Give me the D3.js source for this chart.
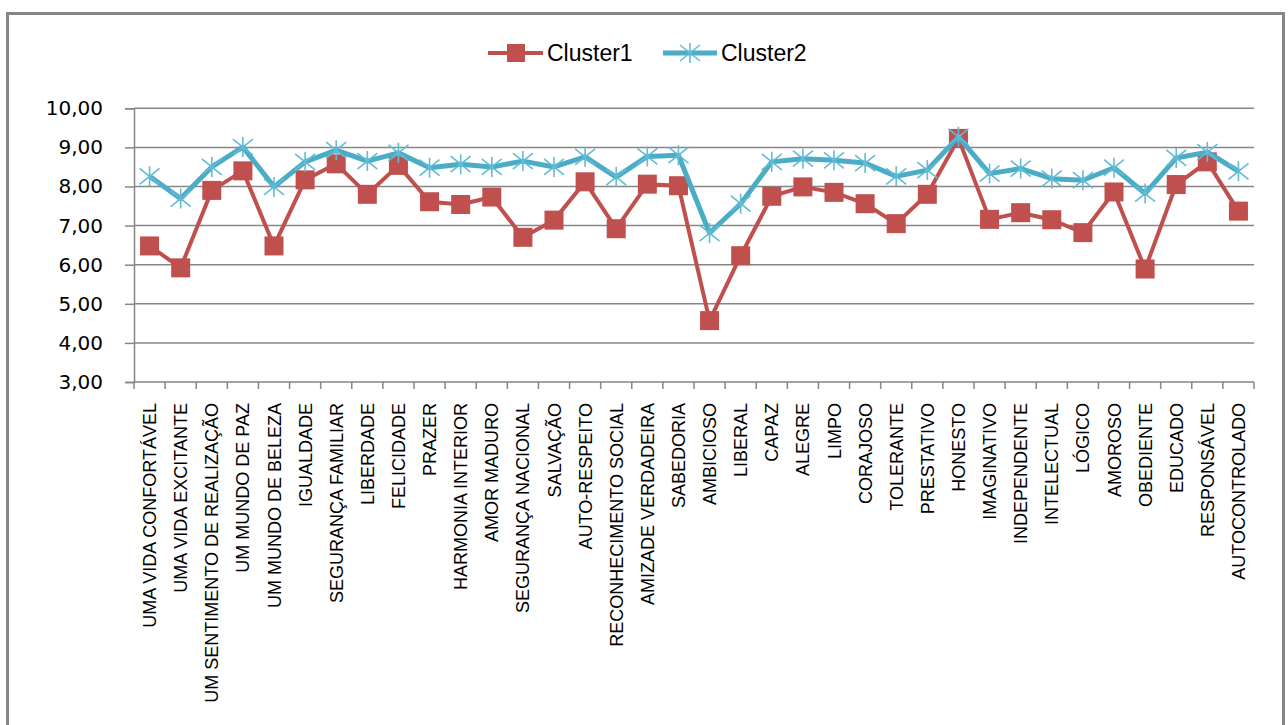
<!DOCTYPE html>
<html>
<head>
<meta charset="utf-8">
<script src="https://cdn.jsdelivr.net/npm/d3@7"></script>
<style>
  html, body { margin: 0; padding: 0; background: #fff; }
  svg { display: block; }
</style>
</head>
<body>
<svg id="chart" width="1288" height="725"></svg>
<script>
const categories = [
  "UMA VIDA CONFORTÁVEL", "UMA VIDA EXCITANTE", "UM SENTIMENTO DE REALIZAÇÃO",
  "UM MUNDO DE PAZ", "UM MUNDO DE BELEZA", "IGUALDADE", "SEGURANÇA FAMILIAR",
  "LIBERDADE", "FELICIDADE", "PRAZER", "HARMONIA INTERIOR", "AMOR MADURO",
  "SEGURANÇA NACIONAL", "SALVAÇÃO", "AUTO-RESPEITO", "RECONHECIMENTO SOCIAL",
  "AMIZADE VERDADEIRA", "SABEDORIA", "AMBICIOSO", "LIBERAL", "CAPAZ", "ALEGRE",
  "LIMPO", "CORAJOSO", "TOLERANTE", "PRESTATIVO", "HONESTO", "IMAGINATIVO",
  "INDEPENDENTE", "INTELECTUAL", "LÓGICO", "AMOROSO", "OBEDIENTE", "EDUCADO",
  "RESPONSÁVEL", "AUTOCONTROLADO"
];
const cluster1 = [6.48, 5.92, 7.90, 8.40, 6.48, 8.17, 8.58, 7.80, 8.54, 7.61, 7.54, 7.73,
  6.70, 7.14, 8.12, 6.92, 8.06, 8.02, 4.57, 6.23, 7.75, 7.99, 7.85, 7.56,
  7.05, 7.80, 9.23, 7.16, 7.33, 7.15, 6.82, 7.86, 5.89, 8.05, 8.63, 7.37];
const cluster2 = [8.26, 7.69, 8.50, 9.01, 7.99, 8.63, 8.93, 8.65, 8.86, 8.48, 8.57, 8.50,
  8.65, 8.50, 8.76, 8.24, 8.77, 8.80, 6.81, 7.56, 8.63, 8.71, 8.67, 8.60,
  8.26, 8.42, 9.27, 8.33, 8.46, 8.20, 8.16, 8.48, 7.82, 8.73, 8.88, 8.39];
const seriesNames = ["Cluster1", "Cluster2"];
const yTicks = [3, 4, 5, 6, 7, 8, 9, 10];

const svg = d3.select("#chart");
const red = "#C0504D", blue = "#4BACC6", starCol = "#62BCD6", grid = "#868686";
const plot = { left: 134, right: 1254, top: 108.3, bottom: 382 };

// chart border
svg.append("rect").attr("x", 7.5).attr("y", 13.5).attr("width", 1276).attr("height", 740)
  .attr("fill", "none").attr("stroke", grid).attr("stroke-width", 3);

const x = d3.scaleBand().domain(categories).range([plot.left, plot.right]).paddingInner(0).paddingOuter(0);
const y = d3.scaleLinear().domain([3, 10]).range([plot.bottom, plot.top]);
const cx = d => x(d) + x.bandwidth() / 2;

// gridlines
svg.append("g").selectAll("line").data(yTicks.filter(t => t > 3)).join("line")
  .attr("x1", plot.left).attr("x2", plot.right)
  .attr("y1", d => y(d)).attr("y2", d => y(d))
  .attr("stroke", grid).attr("stroke-width", 1.5);

// y axis
const yAxis = d3.axisLeft(y).tickValues(yTicks).tickSize(9).tickPadding(22)
  .tickFormat(d => d3.format(".2f")(d).replace(".", ","));
const gy = svg.append("g").attr("transform", `translate(${plot.left},0)`).call(yAxis);
gy.select(".domain").attr("stroke", grid).attr("stroke-width", 1.5);
gy.selectAll(".tick line").attr("stroke", grid).attr("stroke-width", 1.5);
gy.selectAll(".tick text").attr("font-family", "DejaVu Sans, Verdana, sans-serif")
  .attr("font-size", 20).attr("fill", "#000");

// x axis
const boundaries = categories.map(c => x(c)).concat([plot.right]);
svg.append("line").attr("x1", plot.left).attr("x2", plot.right)
  .attr("y1", plot.bottom).attr("y2", plot.bottom).attr("stroke", grid).attr("stroke-width", 1.5);
svg.append("g").selectAll("line").data(boundaries).join("line")
  .attr("x1", d => d).attr("x2", d => d).attr("y1", plot.bottom).attr("y2", plot.bottom + 7)
  .attr("stroke", grid).attr("stroke-width", 1.5);
svg.append("g").selectAll("text").data(categories).join("text")
  .attr("transform", d => `translate(${cx(d) + 6.5},${plot.bottom + 21}) rotate(-90)`)
  .attr("text-anchor", "end")
  .attr("font-family", "Liberation Sans, Arial, sans-serif")
  .attr("font-size", 18).attr("fill", "#000")
  .text(d => d);

// lines
const line = d3.line().x((d, i) => cx(categories[i])).y(d => y(d));
svg.append("path").datum(cluster1).attr("d", line).attr("fill", "none")
  .attr("stroke", red).attr("stroke-width", 4).attr("stroke-linejoin", "round");
svg.append("g").selectAll("rect").data(cluster1).join("rect")
  .attr("x", (d, i) => cx(categories[i]) - 9.5).attr("y", d => y(d) - 9.5)
  .attr("width", 19).attr("height", 19).attr("fill", red);

svg.append("path").datum(cluster2).attr("d", line).attr("fill", "none")
  .attr("stroke", blue).attr("stroke-width", 5).attr("stroke-linejoin", "round");
const star = (g, px, py) => {
  const s = 10;
  g.append("path")
    .attr("d", `M${px},${py - s}L${px},${py + s}M${px - s},${py - s * 0.8}L${px + s},${py + s * 0.8}M${px - s},${py + s * 0.8}L${px + s},${py - s * 0.8}`)
    .attr("stroke", starCol).attr("stroke-width", 1.6).attr("fill", "none");
};
const gs = svg.append("g");
cluster2.forEach((v, i) => star(gs, cx(categories[i]), y(v)));

// legend
const lg = svg.append("g");
const legY = 53;
lg.append("line").attr("x1", 488).attr("x2", 543).attr("y1", legY).attr("y2", legY)
  .attr("stroke", red).attr("stroke-width", 4);
lg.append("rect").attr("x", 507).attr("y", legY - 9).attr("width", 18).attr("height", 18).attr("fill", red);
lg.append("text").attr("x", 547).attr("y", legY + 8).attr("font-family", "Liberation Sans, Arial, sans-serif")
  .attr("font-size", 23).attr("fill", "#000").text(seriesNames[0]);
lg.append("line").attr("x1", 663).attr("x2", 717).attr("y1", legY).attr("y2", legY)
  .attr("stroke", blue).attr("stroke-width", 5);
star(lg, 690, legY);
lg.append("text").attr("x", 721).attr("y", legY + 8).attr("font-family", "Liberation Sans, Arial, sans-serif")
  .attr("font-size", 23).attr("fill", "#000").text(seriesNames[1]);
</script>
</body>
</html>
